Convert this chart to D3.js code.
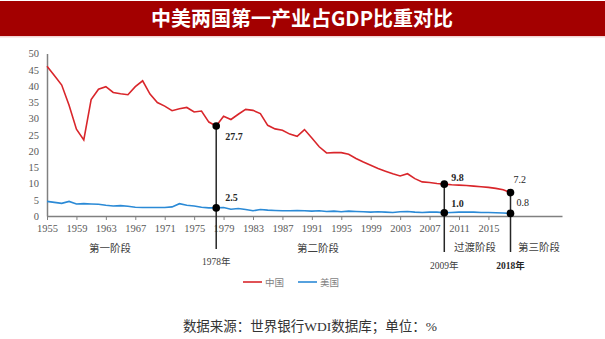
<!DOCTYPE html>
<meta charset="utf-8">
<script src="https://d3js.org/d3.v7.min.js"></script>
<style>
  body { margin: 0; background: #fff; }
  text { font-family: "Liberation Serif", "Noto Sans CJK SC", serif; }
</style>
<div id="chart"></div>
<script>
// years on the axis
var years = d3.range(1955, 2019);
// share of primary industry in GDP, %
var china = [46.1, 43.2, 40.3, 34.1, 26.7, 23.4, 35.8, 39.0, 39.8, 38.0,
             37.6, 37.3, 39.8, 41.6, 37.5, 34.9, 33.8, 32.4, 33.0, 33.4,
             32.0, 32.3, 28.9, 27.7, 30.7, 29.7, 31.3, 32.8, 32.5, 31.5,
             27.9, 26.8, 26.4, 25.2, 24.5, 26.6, 24.0, 21.3, 19.4, 19.5,
             19.5, 19.0, 17.7, 16.6, 15.6, 14.6, 13.8, 13.0, 12.3, 13.0,
             11.5, 10.5, 10.3, 10.0, 9.8, 9.6, 9.5, 9.4, 9.2, 9.0,
             8.8, 8.5, 8.1, 7.2];
var usa = [4.5, 4.2, 3.9, 4.5, 3.7, 3.8, 3.7, 3.6, 3.3, 3.1,
           3.2, 3.0, 2.7, 2.6, 2.6, 2.6, 2.6, 2.8, 3.8, 3.3,
           3.1, 2.7, 2.5, 2.5, 2.6, 2.1, 2.3, 2.0, 1.6, 2.0,
           1.8, 1.7, 1.6, 1.6, 1.7, 1.6, 1.5, 1.6, 1.4, 1.5,
           1.3, 1.5, 1.4, 1.3, 1.2, 1.3, 1.2, 1.1, 1.3, 1.4,
           1.2, 1.1, 1.2, 1.2, 1.0, 1.1, 1.2, 1.2, 1.2, 1.1,
           1.1, 1.0, 0.9, 0.8];
var xTicks = d3.range(1955, 2016, 4);
var yTicks = d3.range(0, 51, 5);
// marker years with labelled values
var markers = [
  {year: 1978, cn: 27.7, us: 2.5, label: "1978年", bold: false},
  {year: 2009, cn: 9.8, us: 1.0, label: "2009年", bold: false},
  {year: 2018, cn: 7.2, us: 0.8, label: "2018年", bold: true}
];
var stages = [
  {name: "第一阶段", x: 110, y: 252},
  {name: "第二阶段", x: 318, y: 252},
  {name: "过渡阶段", x: 475, y: 251},
  {name: "第三阶段", x: 539, y: 251}
];

var width = 605, height = 339;
var red = "#d9262b", blue = "#2b8ad6", grey = "#7f7f7f";

var svg = d3.select("#chart").append("svg")
  .attr("width", width)
  .attr("height", height);

// title banner
svg.append("rect").attr("x", 0).attr("y", 1).attr("width", width).attr("height", 35).attr("fill", "#a30000");
svg.append("rect").attr("x", 0).attr("y", 36).attr("width", width).attr("height", 1.5).attr("fill", "#f3d3d3");
svg.append("text")
  .attr("x", 302).attr("y", 26)
  .attr("text-anchor", "middle")
  .attr("fill", "#fff")
  .style("font-family", "'Noto Sans CJK SC', sans-serif")
  .style("font-weight", "bold")
  .style("font-size", "20px")
  .text("中美两国第一产业占GDP比重对比");

var x = d3.scaleLinear().domain([1955, 2025]).range([47, 562]);
var y = d3.scaleLinear().domain([0, 50]).range([216, 53.5]);

// axes
var xAxis = d3.axisBottom(x)
  .tickValues(xTicks)
  .tickFormat(d3.format("d"))
  .tickSize(4)
  .tickSizeOuter(0);
var gx = svg.append("g").attr("transform", "translate(0," + y(0) + ")").call(xAxis);
gx.select(".domain").attr("stroke", "#808080").attr("stroke-width", 1.5);
gx.selectAll(".tick line").attr("stroke", "#808080").attr("stroke-width", 1);
gx.selectAll(".tick text").attr("fill", "#595959").attr("dy", "0.9em").style("font-size", "10.5px");

var yAxis = d3.axisLeft(y).tickValues(yTicks).tickSize(0).tickPadding(8);
var gy = svg.append("g").attr("transform", "translate(" + x(1955) + ",0)").call(yAxis);
gy.select(".domain").attr("stroke", "#808080").attr("stroke-width", 1.5);
gy.selectAll(".tick text").attr("fill", "#595959").style("font-size", "10.5px");

// series lines
var line = d3.line()
  .x(function (d, i) { return x(years[i]); })
  .y(function (d) { return y(d); });

svg.append("path").datum(usa)
  .attr("fill", "none").attr("stroke", blue).attr("stroke-width", 1.6)
  .attr("d", line);
svg.append("path").datum(china)
  .attr("fill", "none").attr("stroke", red).attr("stroke-width", 1.6)
  .attr("d", line);

// marker lines, dots and values
var m = svg.selectAll(".marker").data(markers).enter().append("g").attr("class", "marker");
m.append("line")
  .attr("x1", function (d) { return x(d.year); })
  .attr("x2", function (d) { return x(d.year); })
  .attr("y1", function (d) { return y(d.cn); })
  .attr("y2", function (d) { return d.year === 1978 ? 249 : 252; })
  .attr("stroke", "#262626").attr("stroke-width", 1.5);
m.append("circle")
  .attr("cx", function (d) { return x(d.year); })
  .attr("cy", function (d) { return y(d.cn); })
  .attr("r", 3.8).attr("fill", "#000");
m.append("circle")
  .attr("cx", function (d) { return x(d.year); })
  .attr("cy", function (d) { return y(d.us); })
  .attr("r", 3.8).attr("fill", "#000");
m.append("text")
  .attr("x", function (d) { return x(d.year); })
  .attr("y", function (d) { return d.year === 1978 ? 265 : 269; })
  .attr("text-anchor", "middle")
  .attr("fill", function (d) { return d.bold ? "#262626" : "#404040"; })
  .style("font-size", "9.5px")
  .style("font-weight", function (d) { return d.bold ? "bold" : "normal"; })
  .text(function (d) { return d.label; });

// value labels next to the dots
var cnOff = {1978: [9, 14], 2009: [7, -3], 2018: [3, -10]};
var usOff = {1978: [9, -7], 2009: [7, -6], 2018: [6, -7]};
m.append("text")
  .attr("x", function (d) { return x(d.year) + cnOff[d.year][0]; })
  .attr("y", function (d) { return y(d.cn) + cnOff[d.year][1]; })
  .attr("fill", "#262626")
  .style("font-size", "10px")
  .style("font-weight", function (d) { return d.year === 1978 || d.year === 2009 ? "bold" : "normal"; })
  .text(function (d) { return d3.format(".1f")(d.cn); });
m.append("text")
  .attr("x", function (d) { return x(d.year) + usOff[d.year][0]; })
  .attr("y", function (d) { return y(d.us) + usOff[d.year][1]; })
  .attr("fill", "#262626")
  .style("font-size", "10px")
  .style("font-weight", function (d) { return d.year === 2018 ? "normal" : "bold"; })
  .text(function (d) { return d3.format(".1f")(d.us); });

// stage names
svg.selectAll(".stage").data(stages).enter().append("text")
  .attr("x", function (d) { return d.x; })
  .attr("y", function (d) { return d.y; })
  .attr("text-anchor", "middle")
  .attr("fill", "#404040")
  .style("font-size", "10.5px")
  .text(function (d) { return d.name; });

// legend
var legend = [{name: "中国", color: red, x: 243}, {name: "美国", color: blue, x: 298}];
var lg = svg.selectAll(".legend").data(legend).enter().append("g");
lg.append("line")
  .attr("x1", function (d) { return d.x; })
  .attr("x2", function (d) { return d.x + 19; })
  .attr("y1", 282).attr("y2", 282)
  .attr("stroke", function (d) { return d.color; }).attr("stroke-width", 1.6);
lg.append("text")
  .attr("x", function (d) { return d.x + 22; })
  .attr("y", 286)
  .attr("fill", grey)
  .style("font-size", "9.5px")
  .text(function (d) { return d.name; });

// source note
svg.append("text")
  .attr("x", 310).attr("y", 331)
  .attr("text-anchor", "middle")
  .attr("fill", "#333")
  .style("font-size", "13.5px")
  .text("数据来源：世界银行WDI数据库；单位：%");
</script>
